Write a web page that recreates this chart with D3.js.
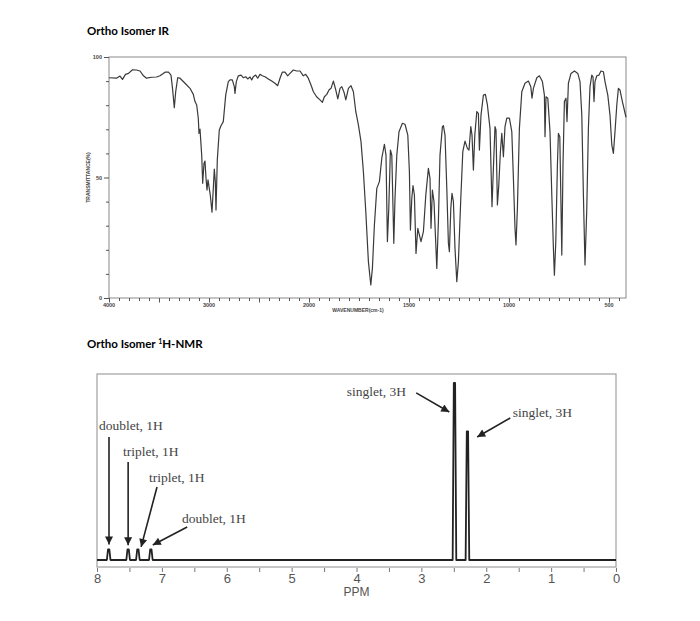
<!DOCTYPE html>
<html>
<head>
<meta charset="utf-8">
<script src="https://cdn.jsdelivr.net/npm/d3@7/dist/d3.min.js"></script>
<style>
  body { margin: 0; background: #fff; }
  svg { display: block; }
</style>
</head>
<body>
<svg id="chart" width="700" height="621"></svg>
<script>
'use strict';

// IR spectrum (wavenumber in cm-1, transmittance in %)
var irWavenumber = [
  4000, 3925, 3890, 3865, 3835, 3805, 3765, 3725, 3690, 3655, 3625, 3575, 3525, 3490, 3440, 3405,
  3380, 3365, 3347, 3333, 3313, 3290, 3240, 3190, 3157, 3140, 3123, 3107, 3100, 3090, 3073, 3063,
  3050, 3040, 3030, 3020, 3010, 3000, 2987, 2970, 2957, 2947, 2937, 2930, 2917, 2897, 2880, 2857,
  2833, 2807, 2790, 2767, 2747, 2740, 2727, 2707, 2680, 2657, 2633, 2613, 2590, 2573, 2557, 2533,
  2513, 2490, 2467, 2440, 2407, 2373, 2340, 2313, 2290, 2267, 2240, 2213, 2190, 2157, 2123, 2090,
  2057, 2033, 2007, 1990, 1978, 1962, 1945, 1933, 1923, 1911, 1900, 1890, 1878, 1866, 1856, 1845,
  1836, 1825, 1816, 1803, 1790, 1778, 1766, 1753, 1740, 1728, 1716, 1703, 1691, 1683, 1673, 1661,
  1648, 1636, 1623, 1615, 1608, 1601, 1593, 1586, 1576, 1570, 1561, 1550, 1533, 1520, 1506, 1498,
  1493, 1486, 1480, 1473, 1465, 1456, 1450, 1440, 1428, 1416, 1403, 1395, 1390, 1383, 1375, 1361,
  1353, 1345, 1333, 1328, 1320, 1311, 1303, 1298, 1291, 1285, 1278, 1270, 1261, 1253, 1241, 1231,
  1220, 1208, 1200, 1191, 1185, 1178, 1171, 1161, 1153, 1148, 1140, 1128, 1118, 1108, 1095, 1085,
  1078, 1070, 1065, 1058, 1051, 1043, 1036, 1028, 1020, 1011, 998, 986, 978, 970, 965, 958,
  948, 936, 920, 903, 891, 885, 878, 861, 848, 833, 823, 820, 815, 806, 795, 786,
  778, 773, 766, 758, 753, 746, 741, 736, 730, 723, 715, 710, 703, 690, 673, 656,
  645, 636, 628, 620, 611, 603, 595, 586, 580, 575, 570, 561, 550, 540, 528, 520,
  506, 495, 486, 478, 470, 461, 453, 445, 433, 415
];
var irTransmittance = [
  91.4, 91.2, 92.1, 90.7, 92.8, 93.2, 94.7, 94.6, 94.2, 92.2, 91.2, 91.6, 91.7, 92.2, 93.7, 93.7,
  92.5, 87.0, 79.0, 85.6, 91.4, 91.2, 89.1, 87.0, 84.5, 81.5, 80.1, 74.6, 68.3, 70.1, 59.3, 47.6,
  55.9, 56.8, 49.7, 44.8, 49.0, 46.2, 42.7, 35.6, 45.5, 53.5, 48.3, 36.5, 57.3, 69.7, 71.5, 73.2,
  84.2, 89.8, 90.5, 90.5, 87.7, 84.9, 89.8, 92.2, 92.5, 91.4, 91.8, 90.9, 91.7, 90.5, 91.8, 92.5,
  91.2, 92.8, 92.2, 91.8, 90.9, 90.0, 89.1, 88.1, 91.2, 93.7, 93.7, 92.2, 93.2, 94.6, 94.2, 94.2,
  92.2, 92.8, 91.2, 88.4, 85.6, 83.5, 82.2, 81.2, 83.5, 84.5, 86.3, 87.0, 90.0, 86.3, 82.6, 87.0,
  87.7, 85.4, 82.2, 87.0, 88.1, 85.6, 77.3, 71.8, 64.9, 52.4, 35.8, 15.1, 5.4, 12.3, 30.3, 45.5,
  48.3, 58.0, 63.8, 59.3, 23.4, 37.2, 61.4, 59.3, 22.7, 41.4, 59.3, 69.0, 72.5, 72.1, 67.6, 52.4,
  28.2, 41.4, 46.6, 42.7, 18.5, 28.9, 26.8, 23.4, 27.5, 42.7, 53.8, 49.7, 28.9, 44.8, 40.0, 12.3,
  31.7, 59.3, 71.1, 71.5, 67.6, 45.5, 22.7, 19.2, 37.2, 43.4, 40.0, 20.6, 6.8, 15.1, 41.4, 60.7,
  65.1, 62.1, 61.4, 71.1, 67.6, 53.1, 67.6, 77.3, 76.6, 61.4, 75.9, 84.2, 84.5, 80.1, 70.4, 37.9,
  53.8, 71.1, 69.7, 38.6, 46.9, 60.7, 68.3, 58.6, 71.1, 74.6, 74.6, 69.0, 49.7, 28.9, 22.0, 37.2,
  70.4, 85.6, 89.1, 90.0, 87.7, 82.9, 87.0, 91.4, 92.2, 89.8, 84.2, 66.9, 83.5, 82.9, 69.0, 42.7,
  20.6, 9.5, 23.4, 55.2, 68.3, 66.9, 42.7, 17.8, 55.2, 81.5, 82.9, 73.2, 89.1, 93.2, 94.2, 93.2,
  89.8, 75.9, 42.7, 13.7, 37.2, 70.4, 87.7, 92.5, 91.8, 81.5, 89.8, 92.2, 92.5, 94.2, 93.9, 89.8,
  84.2, 75.9, 63.5, 60.0, 69.0, 80.1, 87.0, 86.3, 81.5, 75.0
];
var irTickLabels = [4000, 3000, 2000, 1500, 1000, 500];
var irYTickLabels = [0, 50, 100];

// 1H-NMR peaks (ppm, relative height)
var nmrPpm = [7.82, 7.52, 7.37, 7.17, 2.49, 2.29];
var nmrHeight = [6, 6, 6, 6, 100, 72.7];
var nmrTickLabels = [8, 7, 6, 5, 4, 3, 2, 1, 0];

// annotations: label at (textPpm, textInt), arrow from (fromPpm, fromInt) to (toPpm, toInt)
var nmrLabels = ['doublet, 1H', 'triplet, 1H', 'triplet, 1H', 'doublet, 1H', 'singlet, 3H', 'singlet, 3H'];
var nmrLabelPpm = [7.97, 7.60, 7.20, 6.69, 4.15, 1.59];
var nmrLabelInt = [73.4, 58.8, 44.1, 20.9, 92.7, 80.8];
var nmrArrowFrom = [[7.815, 69.5], [7.52, 55.4], [7.075, 41.2], [6.61, 18.6], [3.08, 94.4], [1.63, 80.2]];
var nmrArrowTo = [[7.815, 8.8], [7.52, 8.4], [7.32, 7.4], [7.14, 8.5], [2.57, 83.6], [2.14, 69.5]];

var svg = d3.select('#chart');

function drawTitles() {
  svg.append('text')
    .attr('x', 87).attr('y', 35)
    .style('font-family', 'Lato')
    .style('font-weight', 'bold')
    .style('font-size', '11.5px')
    .text('Ortho Isomer IR');

  var t = svg.append('text')
    .attr('x', 87).attr('y', 348)
    .style('font-family', 'Lato')
    .style('font-weight', 'bold')
    .style('font-size', '11.5px');
  t.append('tspan').text('Ortho Isomer ');
  t.append('tspan').attr('dy', -4).style('font-size', '7px').text('1');
  t.append('tspan').attr('dy', 4).text('H-NMR');
}

function drawIR() {
  var x = d3.scaleLinear().domain([4000, 2000, 415]).range([109, 309, 626]);
  var y = d3.scaleLinear().domain([0, 100]).range([298, 57]);
  var g = svg.append('g');

  g.append('rect')
    .attr('x', x(4000)).attr('y', y(100))
    .attr('width', x(415) - x(4000)).attr('height', y(0) - y(100))
    .attr('fill', 'none').attr('stroke', '#8a8a8a').attr('stroke-width', 1);

  var minor = d3.range(4000, 1999, -100).concat(d3.range(1950, 449, -50));
  var xAxis = g.append('g').attr('transform', 'translate(0,' + y(0) + ')')
    .call(d3.axisBottom(x).tickValues(minor).tickSize(3).tickFormat(''));
  xAxis.select('.domain').remove();
  xAxis.selectAll('line').attr('stroke', '#555')
    .attr('y2', function(d) { return d % 500 === 0 ? 4.5 : 3; });

  g.selectAll('.ir-xlabel')
    .data(irTickLabels)
    .enter().append('text')
    .attr('class', 'ir-xlabel')
    .attr('x', function(d) { return x(d); })
    .attr('y', y(0) + 9)
    .attr('text-anchor', 'middle')
    .style('font-family', 'Liberation Sans')
    .style('font-weight', 'bold')
    .style('font-size', '5.5px')
    .attr('fill', '#444')
    .text(function(d) { return d; });

  var yAxis = g.append('g').attr('transform', 'translate(' + x(4000) + ',0)')
    .call(d3.axisLeft(y).tickValues(d3.range(0, 101, 10)).tickSize(3).tickFormat(''));
  yAxis.select('.domain').remove();
  yAxis.selectAll('line').attr('stroke', '#555')
    .attr('x2', function(d) { return d % 50 === 0 ? -5 : -3; });

  g.selectAll('.ir-ylabel')
    .data(irYTickLabels)
    .enter().append('text')
    .attr('class', 'ir-ylabel')
    .attr('x', x(4000) - 7)
    .attr('y', function(d) { return y(d) + 2; })
    .attr('text-anchor', 'end')
    .style('font-family', 'Liberation Sans')
    .style('font-weight', 'bold')
    .style('font-size', '5.5px')
    .attr('fill', '#444')
    .text(function(d) { return d; });

  g.append('text')
    .attr('x', 358).attr('y', y(0) + 14)
    .attr('text-anchor', 'middle')
    .style('font-family', 'Liberation Sans')
    .style('font-weight', 'bold')
    .style('font-size', '5px')
    .attr('fill', '#444')
    .text('WAVENUMBER(cm-1)');

  g.append('text')
    .attr('transform', 'translate(90,' + y(50) + ') rotate(-90)')
    .attr('text-anchor', 'middle')
    .style('font-family', 'Liberation Sans')
    .style('font-weight', 'bold')
    .style('font-size', '5px')
    .attr('fill', '#444')
    .text('TRANSMITTANCE(%)');

  var points = irWavenumber.map(function(w, i) { return [w, irTransmittance[i]]; });
  var line = d3.line()
    .x(function(d) { return x(d[0]); })
    .y(function(d) { return y(d[1]); });

  g.append('path')
    .datum(points)
    .attr('d', line)
    .attr('fill', 'none')
    .attr('stroke', '#3a3a3a')
    .attr('stroke-width', 1.2)
    .attr('stroke-linejoin', 'round');
}

function drawNMR() {
  var x = d3.scaleLinear().domain([8, 0]).range([97, 616]);
  var y = d3.scaleLinear().domain([0, 100]).range([560, 383]);
  var g = svg.append('g');
  var top = 374, bottom = 567;

  g.append('rect')
    .attr('x', x(8)).attr('y', top)
    .attr('width', x(0) - x(8)).attr('height', bottom - top)
    .attr('fill', 'none').attr('stroke', '#a0a0a0').attr('stroke-width', 1.2);

  var xAxis = g.append('g').attr('transform', 'translate(0,' + bottom + ')')
    .call(d3.axisBottom(x).tickValues(d3.range(0, 8.01, 0.5)).tickSize(5).tickPadding(2)
      .tickFormat(function(d) { return nmrTickLabels.indexOf(d) >= 0 ? d : ''; }));
  xAxis.select('.domain').remove();
  xAxis.selectAll('line').attr('stroke', '#777').attr('y1', 1);
  xAxis.selectAll('text')
    .style('font-family', 'Liberation Sans')
    .style('font-size', '13px')
    .attr('fill', '#555');

  g.append('text')
    .attr('x', x(4)).attr('y', 596)
    .attr('text-anchor', 'middle')
    .style('font-family', 'Liberation Sans')
    .style('font-size', '12px')
    .attr('fill', '#555')
    .text('PPM');

  // spectrum trace: baseline with a narrow spike at every peak
  var trace = [[8, 0]];
  nmrPpm.forEach(function(p, i) {
    trace.push([p + 0.028, 0], [p + 0.01, nmrHeight[i]], [p - 0.01, nmrHeight[i]], [p - 0.028, 0]);
  });
  trace.push([0, 0]);

  var line = d3.line()
    .x(function(d) { return x(d[0]); })
    .y(function(d) { return y(d[1]); });

  g.append('path')
    .datum(trace)
    .attr('d', line)
    .attr('fill', 'none')
    .attr('stroke', '#222')
    .attr('stroke-width', 1.8)
    .attr('stroke-linejoin', 'round');

  svg.append('defs').append('marker')
    .attr('id', 'arrow')
    .attr('markerUnits', 'userSpaceOnUse')
    .attr('viewBox', '0 0 10 10')
    .attr('refX', 10).attr('refY', 5)
    .attr('markerWidth', 10).attr('markerHeight', 8)
    .attr('orient', 'auto')
    .append('path')
    .attr('d', 'M0,0L10,5L0,10Z')
    .attr('fill', '#222');

  g.selectAll('.arrow')
    .data(nmrArrowFrom)
    .enter().append('line')
    .attr('class', 'arrow')
    .attr('x1', function(d) { return x(d[0]); })
    .attr('y1', function(d) { return y(d[1]); })
    .attr('x2', function(d, i) { return x(nmrArrowTo[i][0]); })
    .attr('y2', function(d, i) { return y(nmrArrowTo[i][1]); })
    .attr('stroke', '#222')
    .attr('stroke-width', 1.6)
    .attr('marker-end', 'url(#arrow)');

  g.selectAll('.peak-label')
    .data(nmrLabels)
    .enter().append('text')
    .attr('class', 'peak-label')
    .attr('x', function(d, i) { return x(nmrLabelPpm[i]); })
    .attr('y', function(d, i) { return y(nmrLabelInt[i]); })
    .style('font-family', 'Liberation Serif')
    .style('font-size', '13.5px')
    .attr('fill', '#444')
    .text(function(d) { return d; });
}

drawTitles();
drawIR();
drawNMR();
</script>
</body>
</html>
